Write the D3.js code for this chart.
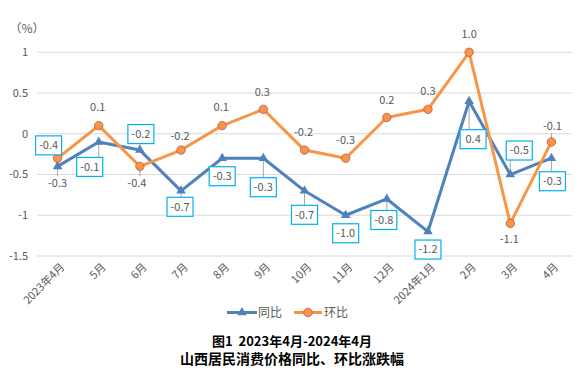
<!DOCTYPE html>
<html>
<head>
<meta charset="utf-8">
<script src="https://cdn.jsdelivr.net/npm/d3@7"></script>
<style>
  body { margin: 0; background: #fff; }
  text { font-family: "Noto Sans CJK SC", "Noto Sans", sans-serif; }
</style>
</head>
<body>
<div id="chart"></div>
<script>
// ---- data ----
const months = ["2023年4月", "5月", "6月", "7月", "8月", "9月", "10月", "11月", "12月", "2024年1月", "2月", "3月", "4月"];
const yoy = [-0.4, -0.1, -0.2, -0.7, -0.3, -0.3, -0.7, -1.0, -0.8, -1.2, 0.4, -0.5, -0.3];   // 同比
const mom = [-0.3, 0.1, -0.4, -0.2, 0.1, 0.3, -0.2, -0.3, 0.2, 0.3, 1.0, -1.1, -0.1];        // 环比
const yTicks = [1, 0.5, 0, -0.5, -1, -1.5];

// label placement (offset from the point, px) and whether a leader line is drawn
const yoyLabelOff = [[-9,-21],[-9,25],[1,-16],[-1,16],[0,18],[0,29],[0,24],[0,18],[-3,21],[0,18],[4,38],[9,-24],[1,23]];
const momLabelOff = [[0,25],[-1,-18],[-3,17],[-1,-14],[-1,-18],[-1,-17],[-1,-18],[0,-18],[0,-17],[0,-18],[0,-18],[-1,16],[1,-16]];
const yoyLeader = [1,1,1,1,0,1,1,0,1,0,1,1,1];
const momLeader = [1,0,1,0,0,0,0,0,0,0,0,0,1];

const W = 585, H = 376;
const left = 37, right = 572;
const blue = "#4F81BD", orange = "#F79646";
const textCol = "#595959";
const fmt = v => v.toFixed(1);

const svg = d3.select("#chart").append("svg")
    .attr("width", W).attr("height", H);

const x = d3.scaleBand().domain(months).range([left, right]);
const y = d3.scaleLinear().domain([-1.5, 1]).range([256, 52.3]);
const cx = d => x(d) + x.bandwidth() / 2;

// grid
svg.selectAll(".grid").data(yTicks).enter().append("line")
    .attr("x1", left).attr("x2", right)
    .attr("y1", d => y(d)).attr("y2", d => y(d))
    .attr("stroke", "#D9D9D9").attr("stroke-width", 1);

svg.selectAll(".ytick").data(yTicks).enter().append("text")
    .attr("x", 28).attr("y", d => y(d)).attr("dy", "0.35em")
    .attr("text-anchor", "end").attr("font-size", 11).attr("fill", textCol)
    .text(d => d);

svg.append("text").attr("x", 27).attr("y", 33)
    .attr("text-anchor", "middle").attr("font-size", 12).attr("fill", textCol)
    .text("（%）");

// x labels
svg.selectAll(".xlab").data(months).enter().append("text")
    .attr("transform", d => `translate(${cx(d) + 5},${265}) rotate(-45)`)
    .attr("text-anchor", "end").attr("dy", "0.35em")
    .attr("font-size", 11).attr("fill", textCol)
    .text(d => d);

// series
const line = d3.line().x((d, i) => cx(months[i])).y(d => y(d));

const series = [
  {name: "同比", vals: yoy, color: blue, off: yoyLabelOff, leader: yoyLeader, boxed: true},
  {name: "环比", vals: mom, color: orange, off: momLabelOff, leader: momLeader, boxed: false}
];

const bw = 26, bh = 19;

// leader lines first (under everything)
series.forEach(s => {
  s.vals.forEach((v, i) => {
    if (!s.leader[i]) return;
    const px = cx(months[i]), py = y(v);
    const lx = px + s.off[i][0], ly = py + s.off[i][1];
    const hw = s.boxed ? bw / 2 : 9, hh = s.boxed ? bh / 2 : 7;
    const ex = Math.max(lx - hw, Math.min(px, lx + hw));
    const ey = Math.max(ly - hh, Math.min(py, ly + hh));
    svg.append("line")
      .attr("x1", px).attr("y1", py).attr("x2", ex).attr("y2", ey)
      .attr("stroke", "#A6A6A6").attr("stroke-width", 1);
  });
});

series.forEach(s => {
  svg.append("path").datum(s.vals)
    .attr("d", line).attr("fill", "none")
    .attr("stroke", s.color).attr("stroke-width", 3)
    .attr("stroke-linejoin", "round");
});

// markers
svg.selectAll(".tri").data(yoy).enter().append("path")
    .attr("d", d3.symbol().type(d3.symbolTriangle).size(40))
    .attr("transform", (d, i) => `translate(${cx(months[i])},${y(d)})`)
    .attr("fill", blue);

svg.selectAll(".dot").data(mom).enter().append("circle")
    .attr("cx", (d, i) => cx(months[i])).attr("cy", d => y(d))
    .attr("r", 4.2).attr("fill", orange)
    .attr("stroke", "#C0504D").attr("stroke-width", 0.8);

// value labels
series.forEach(s => {
  s.vals.forEach((v, i) => {
    const lx = cx(months[i]) + s.off[i][0], ly = y(v) + s.off[i][1];
    if (s.boxed) {
      svg.append("rect")
        .attr("x", lx - bw / 2).attr("y", ly - bh / 2)
        .attr("width", bw).attr("height", bh)
        .attr("fill", "#fff").attr("stroke", "#00B0F0").attr("stroke-width", 1.2);
    }
    svg.append("text")
      .attr("x", lx).attr("y", ly).attr("dy", "0.35em")
      .attr("text-anchor", "middle").attr("font-size", 11).attr("fill", textCol)
      .text(fmt(v));
  });
});

// legend
const leg = svg.append("g");
leg.append("line").attr("x1", 227).attr("x2", 257).attr("y1", 312.5).attr("y2", 312.5)
    .attr("stroke", blue).attr("stroke-width", 3);
leg.append("path").attr("d", d3.symbol().type(d3.symbolTriangle).size(40))
    .attr("transform", "translate(242,312.5)").attr("fill", blue);
leg.append("text").attr("x", 258).attr("y", 312.5).attr("dy", "0.35em")
    .attr("font-size", 12).attr("fill", textCol).text("同比");
leg.append("line").attr("x1", 294).attr("x2", 322).attr("y1", 312.5).attr("y2", 312.5)
    .attr("stroke", orange).attr("stroke-width", 3);
leg.append("circle").attr("cx", 308).attr("cy", 312.5).attr("r", 4.2)
    .attr("fill", orange).attr("stroke", "#C0504D").attr("stroke-width", 0.8);
leg.append("text").attr("x", 324).attr("y", 312.5).attr("dy", "0.35em")
    .attr("font-size", 12).attr("fill", textCol).text("环比");

// title
svg.append("text").attr("x", 292).attr("y", 341).attr("dy", "0.35em")
    .attr("text-anchor", "middle").attr("font-size", 13).attr("font-weight", 700)
    .attr("fill", "#000").attr("xml:space", "preserve")
    .text("图1  2023年4月-2024年4月");
svg.append("text").attr("x", 292).attr("y", 359).attr("dy", "0.35em")
    .attr("text-anchor", "middle").attr("font-size", 14).attr("font-weight", 700)
    .attr("fill", "#000").text("山西居民消费价格同比、环比涨跌幅");
</script>
</body>
</html>
